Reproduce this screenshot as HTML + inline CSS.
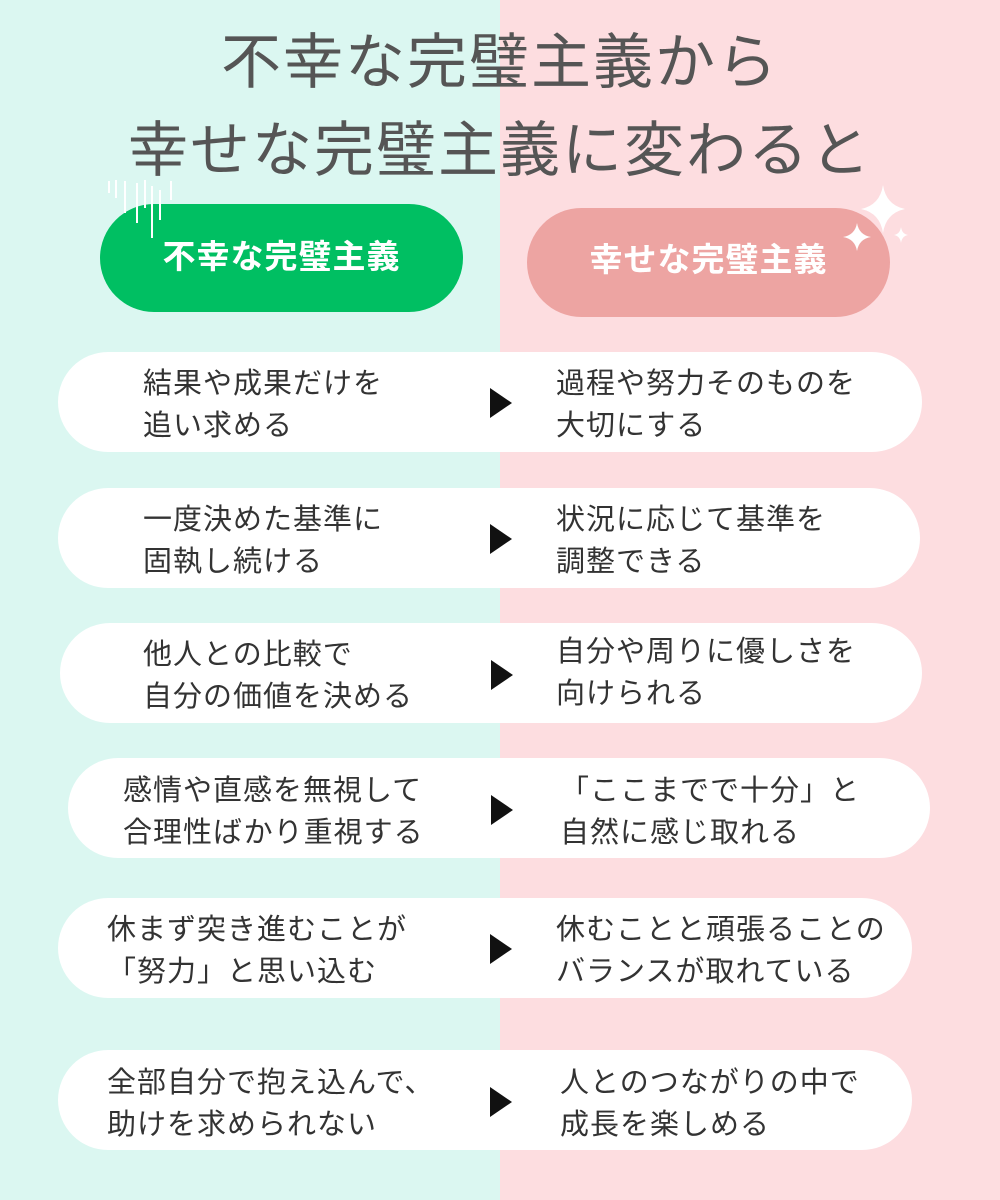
<!DOCTYPE html>
<html><head><meta charset="utf-8"><style>
*{margin:0;padding:0;box-sizing:border-box}
body{width:1000px;height:1200px;position:relative;overflow:hidden;font-family:"Liberation Sans","Noto Sans CJK JP",sans-serif;background:linear-gradient(90deg,#dbf7f1 0 500px,#fddde0 500px)}
.a{position:absolute}
.t{left:0;width:1000px;text-align:center;color:#555;font-size:60px;line-height:64px;letter-spacing:2px}
.pill{position:absolute;border-radius:55px;color:#fff;font-weight:bold;font-size:33px;letter-spacing:1px;text-align:center}
.row{position:absolute;background:#fff;border-radius:50px;height:100px}
.tx{position:absolute;font-size:29px;letter-spacing:1px;line-height:42px;color:#333;white-space:nowrap}
.tri{position:absolute;width:0;height:0;border-left:22px solid #111;border-top:15px solid transparent;border-bottom:15px solid transparent}
</style></head><body>
<div class="a t" style="top:31px">不幸な完璧主義から</div>
<div class="a t" style="top:119px">幸せな完璧主義に変わると</div>
<div class="pill" style="left:100px;top:204px;width:363px;height:108px;line-height:106px;background:#00bf62">不幸な完璧主義</div>
<svg class="a" style="left:100px;top:178px" width="80" height="70"><g stroke="#fff" stroke-width="2"><line x1="9" y1="3" x2="9" y2="15"/><line x1="16" y1="2" x2="16" y2="20"/><line x1="25" y1="3" x2="25" y2="35"/><line x1="37" y1="5" x2="37" y2="45"/><line x1="45" y1="2" x2="45" y2="30"/><line x1="52" y1="8" x2="52" y2="60"/><line x1="60" y1="12" x2="60" y2="42"/><line x1="71" y1="3" x2="71" y2="22"/></g></svg>
<div class="pill" style="left:527px;top:208px;width:363px;height:109px;line-height:103px;background:#eda4a2">幸せな完璧主義</div>
<svg class="a" style="left:835px;top:185px" width="80" height="70"><g fill="#fff"><path d="M48 0 Q51 20 70 24 Q51 28 48 48 Q45 28 26 24 Q45 20 48 0Z"/><path d="M22 38 Q24 50 36 52 Q24 54 22 66 Q20 54 8 52 Q20 50 22 38Z"/><path d="M66 42 Q67 49 73 50 Q67 51 66 58 Q65 51 59 50 Q65 49 66 42Z"/></g></svg>

<div class="row" style="left:58px;top:352px;width:864px"></div>
<div class="tx" style="left:143px;top:363px">結果や成果だけを<br>追い求める</div>
<div class="tx" style="left:556px;top:363px">過程や努力そのものを<br>大切にする</div>
<div class="tri" style="left:490px;top:388px"></div>

<div class="row" style="left:58px;top:488px;width:862px"></div>
<div class="tx" style="left:143px;top:499px">一度決めた基準に<br>固執し続ける</div>
<div class="tx" style="left:556px;top:499px">状況に応じて基準を<br>調整できる</div>
<div class="tri" style="left:490px;top:524px"></div>

<div class="row" style="left:60px;top:623px;width:862px"></div>
<div class="tx" style="left:143px;top:634px">他人との比較で<br>自分の価値を決める</div>
<div class="tx" style="left:556px;top:631px">自分や周りに優しさを<br>向けられる</div>
<div class="tri" style="left:491px;top:660px"></div>

<div class="row" style="left:68px;top:758px;width:862px"></div>
<div class="tx" style="left:123px;top:770px">感情や直感を無視して<br>合理性ばかり重視する</div>
<div class="tx" style="left:560px;top:770px">「ここまでで十分」と<br>自然に感じ取れる</div>
<div class="tri" style="left:491px;top:795px"></div>

<div class="row" style="left:58px;top:898px;width:854px"></div>
<div class="tx" style="left:107px;top:909px">休まず突き進むことが<br>「努力」と思い込む</div>
<div class="tx" style="left:556px;top:909px">休むことと頑張ることの<br>バランスが取れている</div>
<div class="tri" style="left:490px;top:934px"></div>

<div class="row" style="left:58px;top:1050px;width:854px"></div>
<div class="tx" style="left:107px;top:1062px">全部自分で抱え込んで、<br>助けを求められない</div>
<div class="tx" style="left:560px;top:1062px">人とのつながりの中で<br>成長を楽しめる</div>
<div class="tri" style="left:490px;top:1087px"></div>
</body></html>
